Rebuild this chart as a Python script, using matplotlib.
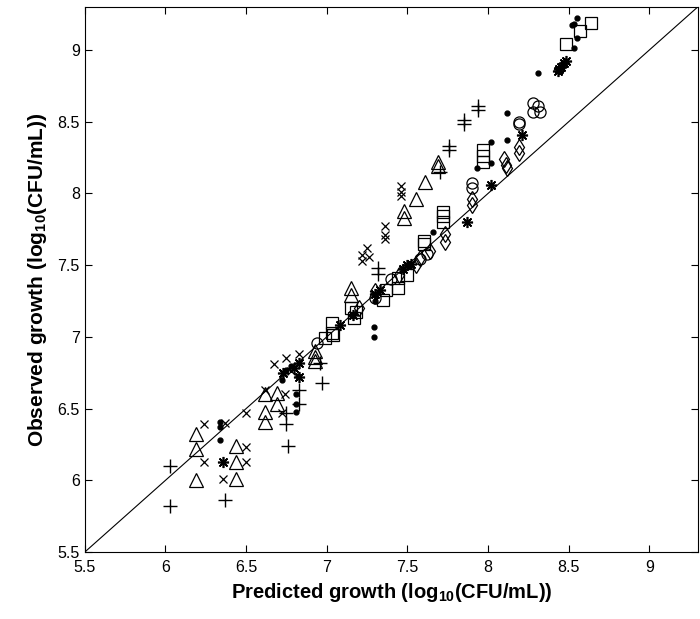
import numpy as np
import matplotlib
matplotlib.use("Agg")
import matplotlib.pyplot as plt

plt.rcParams['font.family'] = ['Liberation Sans', 'DejaVu Sans']
plt.rcParams['mathtext.fontset'] = 'custom'
plt.rcParams['mathtext.rm'] = 'Liberation Sans:bold'
plt.rcParams['mathtext.default'] = 'rm'

# ================== predicted vs observed (log10 CFU/mL) ==================
plus_pred = [6.03, 6.03, 6.37, 6.76, 6.75, 6.75, 6.83, 6.83, 6.97, 6.96, 7.32, 7.32, 7.70, 7.76, 7.76, 7.85, 7.85, 7.94, 7.94]
plus_obs = [6.10, 5.82, 5.86, 6.24, 6.39, 6.47, 6.53, 6.63, 6.68, 6.82, 7.48, 7.44, 8.15, 8.30, 8.33, 8.48, 8.51, 8.58, 8.61]

cross_pred = [6.24, 6.24, 6.36, 6.37, 6.50, 6.50, 6.50, 6.62, 6.67, 6.72, 6.74, 6.75, 6.83, 6.78,
              7.22, 7.22, 7.25, 7.26, 7.36, 7.36, 7.36, 7.46, 7.46, 7.46]
cross_obs = [6.39, 6.13, 6.01, 6.40, 6.47, 6.23, 6.13, 6.63, 6.81, 6.47, 6.60, 6.85, 6.88, 6.76,
             7.53, 7.57, 7.62, 7.56, 7.77, 7.71, 7.68, 8.05, 8.01, 7.98]

tri_pred = [6.19, 6.19, 6.19, 6.44, 6.44, 6.44, 6.62, 6.62, 6.62, 6.69, 6.69, 6.93, 6.93, 6.93,
            7.15, 7.15, 7.48, 7.48, 7.55, 7.61, 7.69, 7.69]
tri_obs = [6.32, 6.22, 6.00, 6.24, 6.13, 6.01, 6.60, 6.48, 6.41, 6.61, 6.53, 6.86, 6.83, 6.90,
           7.34, 7.29, 7.88, 7.83, 7.96, 8.08, 8.22, 8.19]

dot_pred = [6.34, 6.34, 6.34, 6.72, 6.75, 6.78, 6.81, 6.81, 6.81, 6.82, 7.29, 7.29, 7.30, 7.66,
            7.93, 8.02, 8.02, 8.12, 8.12, 8.31, 8.52, 8.53, 8.55, 8.55, 8.53]
dot_obs = [6.41, 6.37, 6.28, 6.70, 6.77, 6.80, 6.60, 6.53, 6.48, 6.73, 7.07, 7.00, 7.25, 7.73,
           8.18, 8.21, 8.36, 8.37, 8.56, 8.84, 9.17, 9.18, 9.22, 9.08, 9.01]

star_pred = [6.36, 6.73, 6.80, 6.83, 6.83, 7.08, 7.16, 7.30, 7.33, 7.47, 7.50, 7.52, 7.87, 8.02,
             8.21, 8.43, 8.45, 8.47, 8.48, 8.44]
star_obs = [6.13, 6.75, 6.78, 6.82, 6.72, 7.08, 7.15, 7.30, 7.33, 7.47, 7.50, 7.51, 7.80, 8.06,
            8.41, 8.85, 8.88, 8.91, 8.92, 8.87]

sq_pred = [6.99, 7.03, 7.03, 7.04, 7.15, 7.18, 7.17, 7.35, 7.37, 7.44, 7.44, 7.50, 7.60, 7.60,
           7.72, 7.72, 7.72, 7.97, 7.97, 7.97, 8.48, 8.57, 8.64]
sq_obs = [6.99, 7.03, 7.10, 7.01, 7.20, 7.17, 7.13, 7.26, 7.33, 7.34, 7.41, 7.43, 7.65, 7.67,
          7.80, 7.84, 7.87, 8.22, 8.26, 8.30, 9.04, 9.13, 9.19]

circ_pred = [6.94, 7.30, 7.40, 7.58, 7.62, 7.90, 7.90, 8.19, 8.19, 8.28, 8.31, 8.28, 8.32]
circ_obs = [6.96, 7.27, 7.40, 7.54, 7.58, 8.07, 8.04, 8.50, 8.48, 8.63, 8.61, 8.57, 8.57]

dia_pred = [7.20, 7.30, 7.45, 7.55, 7.58, 7.64, 7.73, 7.73, 7.90, 7.90, 8.10, 8.11, 8.12, 8.19, 8.19]
dia_obs = [7.20, 7.32, 7.43, 7.50, 7.55, 7.60, 7.72, 7.66, 7.96, 7.92, 8.24, 8.20, 8.18, 8.32, 8.28]

ticks = [5.5, 6, 6.5, 7, 7.5, 8, 8.5, 9]
lims = [5.5, 9.3]

fig = plt.figure(figsize=(7.0, 6.19), dpi=100)
ax = fig.add_axes([0.121, 0.108, 0.876, 0.881])

# y = x reference line
ax.plot(lims, lims, color='black', linewidth=0.8)

kw = dict(linestyle='none', color='black', markerfacecolor='none', markeredgewidth=0.9)
ax.plot(tri_pred, tri_obs, marker='^', markersize=10, **kw)
ax.plot(sq_pred, sq_obs, marker='s', markersize=9, **kw)
ax.plot(circ_pred, circ_obs, marker='o', markersize=8, **kw)
ax.plot(dia_pred, dia_obs, marker='d', markersize=8, **kw)
ax.plot(cross_pred, cross_obs, marker='x', markersize=6, **kw)
ax.plot(plus_pred, plus_obs, marker='+', markersize=10, linestyle='none', color='black', markeredgewidth=1.0)
ax.plot(star_pred, star_obs, marker=(8, 2, 0), markersize=8, linestyle='none', color='black', markeredgewidth=1.2)
ax.plot(dot_pred, dot_obs, marker='o', markersize=3.5, linestyle='none', color='black')

ax.set_xlim(lims)
ax.set_ylim(lims)
ax.set_xticks(ticks)
ax.set_yticks(ticks)
ax.set_xticklabels([f'{t:g}' for t in ticks])
ax.set_yticklabels([f'{t:g}' for t in ticks])
ax.tick_params(direction='in', top=True, right=True, length=5, width=0.8, labelsize=11.5)
ax.tick_params(axis='x', pad=6)
for s in ax.spines.values():
    s.set_linewidth(0.8)

ax.set_xlabel(r'Predicted growth (log$_{10}$(CFU/mL))', fontsize=14.5, fontweight='bold', labelpad=4)
ax.set_ylabel(r'Observed growth (log$_{10}$(CFU/mL))', fontsize=15, fontweight='bold', labelpad=6)

fig.savefig('out.png', dpi=100)
